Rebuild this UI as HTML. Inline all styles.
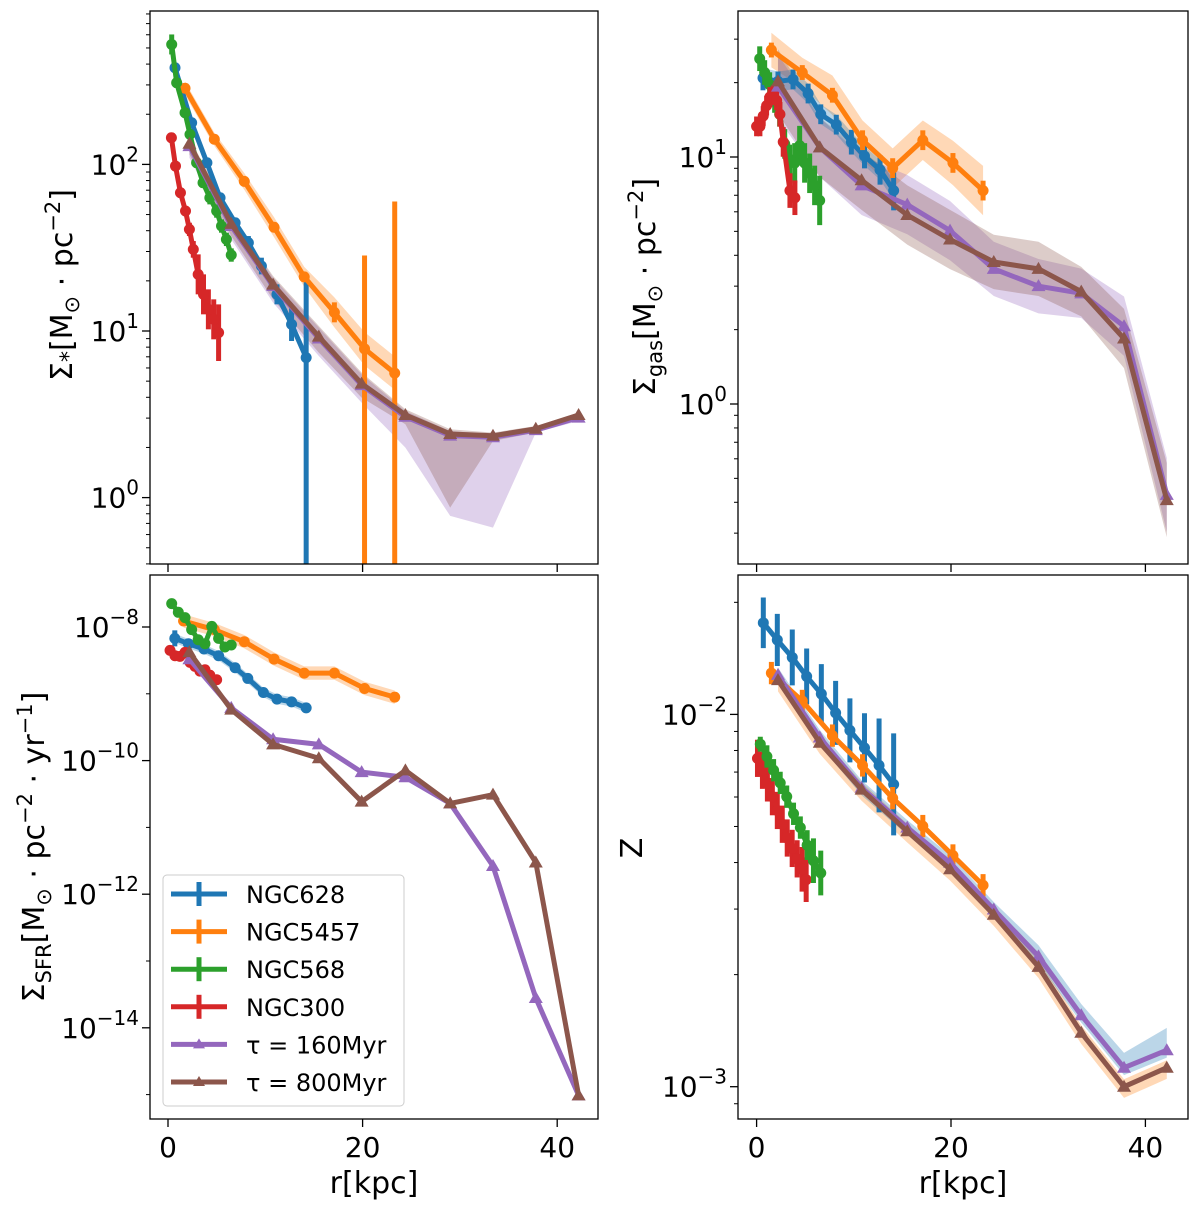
<!DOCTYPE html>
<html><head><meta charset="utf-8"><style>
html,body{margin:0;padding:0;background:#fff;}
svg{display:block;font-family:"DejaVu Sans","Liberation Sans",sans-serif;}
</style></head><body>
<svg id="fig" width="1200" height="1208" viewBox="0 0 1200 1208" xmlns="http://www.w3.org/2000/svg"></svg>
<script>
// ---------- DATA (log10 values) ----------
const modelR = [2.2,6.5,10.8,15.5,19.9,24.4,29,33.4,37.8,42.2];
// Top-left: stellar surface density
const tl_brown = [2.124,1.643,1.278,0.966,0.684,0.496,0.382,0.371,0.413,0.496];
const tl_brownLo = [2.06,1.57,1.19,0.87,0.60,0.44,-0.06,0.34,0.39,0.47];
const tl_brownHi = [2.16,1.69,1.33,1.03,0.75,0.53,0.41,0.39,0.43,0.51];
const tl_purple = [2.11,1.63,1.27,0.955,0.675,0.485,0.372,0.362,0.405,0.48];
const tl_purpleLo = [2.04,1.55,1.17,0.85,0.57,0.30,-0.11,-0.18,0.39,0.46];
const tl_purpleHi = [2.15,1.68,1.32,1.02,0.74,0.52,0.40,0.38,0.42,0.50];
const tl_628_r = [0.72,2.43,4.0,5.35,6.9,8.26,9.6,11.2,12.7,14.2];
const tl_628_v = [2.58,2.25,2.01,1.80,1.65,1.53,1.39,1.22,1.04,0.84];
const tl_628_lo = [0.03,0.03,0.03,0.03,0.03,0.04,0.05,0.06,0.1,3];
const tl_628_hi = [0.03,0.03,0.03,0.03,0.03,0.04,0.05,0.06,0.1,0.46];
const tl_5457_r = [1.75,4.76,7.84,10.9,14.0,17.1,20.2,23.3];
const tl_5457_v = [2.457,2.151,1.898,1.623,1.325,1.112,0.893,0.747];
const tl_5457_lo = [0.02,0.02,0.02,0.03,0.03,0.06,3,3];
const tl_5457_hi = [0.02,0.02,0.02,0.03,0.03,0.06,0.56,1.03];
const tl_5457_bandW = [0.04,0.04,0.05,0.06,0.06,0.09,0.1,0.1];
const tl_568_r = [0.38,0.89,1.75,2.26,2.94,3.6,4.3,5.0,5.5,6.0,6.5];
const tl_568_v = [2.72,2.49,2.31,2.18,2.01,1.89,1.80,1.72,1.63,1.55,1.456];
const tl_568_e = [0.06,0.03,0.03,0.03,0.03,0.03,0.04,0.04,0.04,0.04,0.04];
const tl_300_r = [0.35,0.77,1.28,1.8,2.2,2.6,3.1,3.65,4.15,4.7,5.2];
const tl_300_v = [2.16,1.99,1.83,1.72,1.61,1.49,1.34,1.22,1.13,1.07,0.99];
const tl_300_e = [0.03,0.03,0.03,0.03,0.04,0.05,0.12,0.12,0.12,0.12,0.17];
// Top-right: gas surface density
const tr_brown = [1.306,1.039,0.906,0.765,0.666,0.575,0.547,0.455,0.265,-0.389];
const tr_purple = [1.285,1.039,0.885,0.807,0.702,0.547,0.477,0.448,0.315,-0.368];
const tr_bandW = [0.13,0.12,0.12,0.12,0.12,0.11,0.11,0.10,0.12,0.15];
const tr_628_r = [0.66,2.2,3.75,5.3,6.6,8.2,9.75,11.1,12.7,14.1];
const tr_628_v = [1.32,1.306,1.314,1.257,1.173,1.131,1.06,1.004,0.948,0.864];
const tr_628_e = [0.05,0.04,0.04,0.04,0.04,0.04,0.05,0.05,0.06,0.08];
const tr_5457_r = [1.52,4.7,7.8,10.9,14.0,17.1,20.2,23.3];
const tr_5457_v = [1.433,1.342,1.250,1.068,0.955,1.068,0.976,0.864];
const tr_5457_e = [0.03,0.03,0.03,0.04,0.04,0.04,0.04,0.04];
const tr_5457_bandW = [0.07,0.06,0.08,0.08,0.08,0.08,0.09,0.1];
const tr_568_r = [0.32,0.83,1.34,1.86,2.37,2.89,3.4,3.92,4.43,4.94,5.46,5.97,6.49];
const tr_568_v = [1.398,1.342,1.293,1.229,1.173,1.053,0.99,0.976,1.046,0.976,0.934,0.885,0.824];
const tr_568_e = [0.05,0.05,0.05,0.05,0.05,0.06,0.06,0.08,0.08,0.08,0.08,0.08,0.1];
const tr_300_r = [0.0,0.34,0.68,1.03,1.37,1.71,2.06,2.4,2.74,3.43,3.94];
const tr_300_v = [1.124,1.124,1.166,1.208,1.243,1.25,1.229,1.173,1.061,0.864,0.835];
const tr_300_e = [0.04,0.04,0.04,0.04,0.04,0.04,0.04,0.05,0.06,0.07,0.07];
// Bottom-left: SFR surface density
const bl_brown = [-8.377,-9.237,-9.757,-9.965,-10.615,-10.147,-10.641,-10.51,-11.525,-15.012];
const bl_purple = [-8.482,-9.21,-9.68,-9.757,-10.172,-10.25,-10.641,-11.578,-13.554,-15.012];
const bl_628_r = [0.7,2.1,3.7,5.2,6.9,8.2,9.8,11.2,12.7,14.2];
const bl_628_v = [-8.17,-8.25,-8.33,-8.43,-8.61,-8.77,-8.98,-9.08,-9.12,-9.21];
const bl_628_e = [0.12,0.05,0.04,0.04,0.04,0.04,0.04,0.04,0.04,0.06];
const bl_5457_r = [1.6,4.76,7.84,10.9,14.0,17.1,20.2,23.3];
const bl_5457_v = [-7.91,-8.04,-8.22,-8.48,-8.69,-8.69,-8.92,-9.05];
const bl_568_r = [0.38,1.06,1.75,2.43,3.1,3.8,4.5,5.2,5.85,6.5];
const bl_568_v = [-7.65,-7.78,-7.86,-8.04,-8.19,-8.25,-7.99,-8.17,-8.30,-8.27];
const bl_300_r = [0.21,0.72,1.23,1.75,2.26,2.77,3.28,3.8,4.3,5.0];
const bl_300_v = [-8.35,-8.43,-8.44,-8.38,-8.53,-8.59,-8.66,-8.64,-8.72,-8.79];
// Bottom-right: metallicity
const br_brown = [-1.908,-2.076,-2.202,-2.314,-2.416,-2.538,-2.678,-2.855,-3.0,-2.949];
const br_purple = [-1.894,-2.062,-2.197,-2.304,-2.398,-2.524,-2.65,-2.808,-2.949,-2.902];
const br_628_r = [0.69,2.13,3.67,5.15,6.66,8.13,9.6,11.1,12.6,14.1];
const br_628_v = [-1.754,-1.80,-1.847,-1.898,-1.945,-1.996,-2.043,-2.09,-2.137,-2.188];
const br_628_e = [0.068,0.07,0.075,0.075,0.08,0.086,0.086,0.093,0.126,0.137];
const br_5457_r = [1.52,4.7,7.8,10.9,14.0,17.1,20.2,23.3];
const br_5457_v = [-1.889,-1.964,-2.057,-2.137,-2.225,-2.30,-2.379,-2.459];
const br_568_r = [0.38,1.06,1.75,2.43,3.1,3.8,4.5,5.2,5.85,6.6];
const br_568_v = [-2.08,-2.113,-2.15,-2.184,-2.221,-2.267,-2.304,-2.351,-2.393,-2.426];
const br_568_e = [0.02,0.03,0.03,0.03,0.03,0.03,0.03,0.04,0.06,0.06];
const br_300_r = [0.09,0.6,1.11,1.62,2.13,2.64,3.15,3.66,4.17,4.68,5.1];
const br_300_v = [-2.118,-2.15,-2.184,-2.221,-2.258,-2.295,-2.332,-2.36,-2.388,-2.416,-2.444];
const br_300_e = [0.05,0.05,0.05,0.05,0.05,0.05,0.05,0.05,0.05,0.06,0.06];
const xTicks = [0,20,40];
const legendLabels = ["NGC628","NGC5457","NGC568","NGC300","τ = 160Myr","τ = 800Myr"];

// ---------- DRAWING ----------
const C = {b:"#1f77b4",o:"#ff7f0e",g:"#2ca02c",r:"#d62728",p:"#9467bd",n:"#8c564b"};
const NS = "http://www.w3.org/2000/svg";
const svg = document.getElementById("fig");
function mk(tag, attrs, parent){const e=document.createElementNS(NS,tag);for(const k in attrs)e.setAttribute(k,attrs[k]);(parent||svg).appendChild(e);return e;}

const panels = {
 tl:{x0:150,x1:598,y0:11,y1:564,xz:168,xs:9.73,yr:164.4,lr:2,ys:166.6},
 tr:{x0:738,x1:1188,y0:11,y1:564,xz:756.6,xs:9.72,yr:157,lr:1,ys:247},
 bl:{x0:150,x1:598,y0:575,y1:1119,xz:168,xs:9.73,yr:627,lr:-8,ys:66.8},
 br:{x0:738,x1:1188,y0:575,y1:1119,xz:756.6,xs:9.72,yr:714.4,lr:-2,ys:372.3}
};
function X(p,r){return p.xz+p.xs*r;}
function Y(p,l){return p.yr-(l-p.lr)*p.ys;}

function clip(id,p){
 const d=mk("clipPath",{id:id});
 mk("rect",{x:p.x0,y:p.y0,width:p.x1-p.x0,height:p.y1-p.y0},d);
}
function band(g,p,rs,lo,hi,col,op,name){
 let pts=rs.map((r,i)=>X(p,r)+","+Y(p,hi[i]));
 pts=pts.concat(rs.map((r,i)=>X(p,r)+","+Y(p,lo[i])).reverse());
 const e=mk("polygon",{points:pts.join(" "),fill:col,"fill-opacity":op,stroke:"none"},g);
 
 
}
function line(g,p,rs,vs,col,name,w){
 const e=mk("polyline",{points:rs.map((r,i)=>X(p,r)+","+Y(p,vs[i])).join(" "),fill:"none",stroke:col,"stroke-width":w||5,"stroke-linejoin":"round"},g);
 
 
}
function errs(g,p,rs,vs,lo,hi,col,name){
 rs.forEach((r,i)=>{
  const e=mk("line",{x1:X(p,r),x2:X(p,r),y1:Y(p,vs[i]+hi[i]),y2:Y(p,vs[i]-lo[i]),stroke:col,"stroke-width":5},g);
  
  
 });
}
function dots(g,p,rs,vs,col,name){
 rs.forEach((r,i)=>{
  const e=mk("circle",{cx:X(p,r),cy:Y(p,vs[i]),r:5.5,fill:col},g);
  
  
 });
}
function tris(g,p,rs,vs,col,name){
 rs.forEach((r,i)=>{
  const x=X(p,r),y=Y(p,vs[i]);
  const e=mk("polygon",{points:`${x},${y-7} ${x-7},${y+5} ${x+7},${y+5}`,fill:col},g);
  
  
 });
}
function obs(g,p,rs,vs,lo,hi,col,name){errs(g,p,rs,vs,lo,hi,col,name);line(g,p,rs,vs,col,name+'-line');dots(g,p,rs,vs,col,name);}
function model(g,p,vs,col,name){line(g,p,modelR,vs,col,name+'-line');tris(g,p,modelR,vs,col,name);}
function add(a,b,s){return a.map((v,i)=>v+s*b[i]);}
function cst(n,v){return new Array(n).fill(v);}

function axes(key,p,name,showX){
 const g=mk("g",{});
 
 
 const fr=mk("rect",{x:p.x0,y:p.y0,width:p.x1-p.x0,height:p.y1-p.y0,fill:"none",stroke:"#000","stroke-width":1.3},g);
 
 
 const lmin=p.lr-(p.y1-p.yr)/p.ys, lmax=p.lr+(p.yr-p.y0)/p.ys;
 for(let d=Math.floor(lmin);d<=Math.ceil(lmax);d++){
  for(let m=1;m<10;m++){
   const l=d+Math.log10(m); if(l<lmin||l>lmax) continue;
   const y=Y(p,l);
   const major=(m===1);
   if(major && p.ys<100 && (d%2!==0)) { mk("line",{x1:p.x0-4,x2:p.x0,y1:y,y2:y,stroke:"#000","stroke-width":1},g); continue; }
   if(!major && p.ys<100) continue;
   mk("line",{x1:p.x0-(major?8:4),x2:p.x0,y1:y,y2:y,stroke:"#000","stroke-width":major?1.3:1},g);
   if(major){
    const t=mk("text",{x:p.x0-11,y:y+10,"text-anchor":"end","font-size":28,fill:"#000"},g);
    
    
    t.appendChild(document.createTextNode("10"));
    const s=mk("tspan",{dy:-13,"font-size":20},t); s.textContent=(d<0?"−"+(-d):""+d);
   }
  }
 }
 xTicks.forEach(v=>{
  const x=X(p,v);
  mk("line",{x1:x,x2:x,y1:p.y1,y2:p.y1+8,stroke:"#000","stroke-width":1.3},g);
  if(showX){
   const t=mk("text",{x:x,y:p.y1+38,"text-anchor":"middle","font-size":28},g);
   
   
   t.textContent=v;
  }
 });
 if(showX){
  const t=mk("text",{x:(p.x0+p.x1)/2,y:p.y1+74,"text-anchor":"middle","font-size":30},g);
  
  
  t.textContent="r[kpc]";
 }
}

Object.keys(panels).forEach(k=>clip("clip-"+k,panels[k]));

// TL
(function(){const p=panels.tl;const g=mk("g",{"clip-path":"url(#clip-tl)"});
 
 band(g,p,tl_5457_r,add(tl_5457_v,tl_5457_bandW,-1),add(tl_5457_v,tl_5457_bandW,1),C.o,0.3,'ngc5457-band');
 band(g,p,modelR,tl_purpleLo,tl_purpleHi,C.p,0.3,'tau160-band');
 band(g,p,modelR,tl_brownLo,tl_brownHi,C.n,0.3,'tau800-band');
 obs(g,p,tl_628_r,tl_628_v,tl_628_lo,tl_628_hi,C.b,'ngc628');
 obs(g,p,tl_5457_r,tl_5457_v,tl_5457_lo,tl_5457_hi,C.o,'ngc5457');
 obs(g,p,tl_568_r,tl_568_v,tl_568_e,tl_568_e,C.g,'ngc568');
 obs(g,p,tl_300_r,tl_300_v,tl_300_e,tl_300_e,C.r,'ngc300');
 model(g,p,tl_purple,C.p,'tau160');model(g,p,tl_brown,C.n,'tau800');
 axes('tl',p,'stellar-density',false);})();
// TR
(function(){const p=panels.tr;const g=mk("g",{"clip-path":"url(#clip-tr)"});
 
 band(g,p,tr_5457_r,add(tr_5457_v,tr_5457_bandW,-1),add(tr_5457_v,tr_5457_bandW,1),C.o,0.3,'ngc5457-band');
 band(g,p,modelR,add(tr_purple,tr_bandW,-1),add(tr_purple,tr_bandW,1),C.p,0.3,'tau160-band');
 band(g,p,modelR,add(tr_brown,tr_bandW,-1),add(tr_brown,tr_bandW,1),C.n,0.3,'tau800-band');
 band(g,p,tr_628_r,add(tr_628_v,cst(10,0.04),-1),add(tr_628_v,cst(10,0.04),1),C.b,0.3,'ngc628-band');
 obs(g,p,tr_628_r,tr_628_v,tr_628_e,tr_628_e,C.b,'ngc628');
 obs(g,p,tr_5457_r,tr_5457_v,tr_5457_e,tr_5457_e,C.o,'ngc5457');
 obs(g,p,tr_568_r,tr_568_v,tr_568_e,tr_568_e,C.g,'ngc568');
 obs(g,p,tr_300_r,tr_300_v,tr_300_e,tr_300_e,C.r,'ngc300');
 model(g,p,tr_purple,C.p,'tau160');model(g,p,tr_brown,C.n,'tau800');
 axes('tr',p,'gas-density',false);})();
// BL
(function(){const p=panels.bl;const g=mk("g",{"clip-path":"url(#clip-bl)"});
 
 band(g,p,bl_5457_r,add(bl_5457_v,cst(8,0.1),-1),add(bl_5457_v,cst(8,0.1),1),C.o,0.3,'ngc5457-band');
 band(g,p,bl_628_r,add(bl_628_v,cst(10,0.07),-1),add(bl_628_v,cst(10,0.07),1),C.b,0.3,'ngc628-band');
 obs(g,p,bl_628_r,bl_628_v,bl_628_e,bl_628_e,C.b,'ngc628');
 obs(g,p,bl_5457_r,bl_5457_v,cst(8,0.03),cst(8,0.03),C.o,'ngc5457');
 obs(g,p,bl_568_r,bl_568_v,cst(10,0.03),cst(10,0.03),C.g,'ngc568');
 obs(g,p,bl_300_r,bl_300_v,cst(10,0.05),cst(10,0.05),C.r,'ngc300');
 model(g,p,bl_purple,C.p,'tau160');model(g,p,bl_brown,C.n,'tau800');
 axes('bl',p,'sfr-density',true);})();
// BR
(function(){const p=panels.br;const g=mk("g",{"clip-path":"url(#clip-br)"});
 
 band(g,p,modelR,add(br_brown,cst(10,0.03),-1),add(br_brown,cst(10,0.02),1),C.o,0.3,'tau800-band');
 band(g,p,modelR,add(br_purple,cst(10,0.02),-1),add(br_purple,[0.02,0.02,0.02,0.02,0.02,0.02,0.03,0.03,0.04,0.06],1),C.b,0.3,'tau160-band');
 obs(g,p,br_628_r,br_628_v,br_628_e,br_628_e,C.b,'ngc628');
 obs(g,p,br_5457_r,br_5457_v,cst(8,0.03),cst(8,0.03),C.o,'ngc5457');
 obs(g,p,br_300_r,br_300_v,br_300_e,br_300_e,C.r,'ngc300');
 obs(g,p,br_568_r,br_568_v,br_568_e,br_568_e,C.g,'ngc568');
 model(g,p,br_purple,C.p,'tau160');model(g,p,br_brown,C.n,'tau800');
 axes('br',p,'metallicity',true);})();

// Y-axis titles
function ytitle(x,y,name,parts){
 const t=mk("text",{transform:`translate(${x},${y}) rotate(-90)`,"text-anchor":"middle","font-size":30});
 
 
 parts.forEach(([s,dy,fs])=>{const sp=mk("tspan",{dy:dy,"font-size":fs},t);sp.textContent=s;});
}
ytitle(72,285,'y-axis-title-stellar',[["Σ",0,30],["*",4,22],["[M",-4,30],["⊙",7,21],[" · pc",-7,30],["−2",-12,21],["]",12,30]]);
ytitle(655,287,'y-axis-title-gas',[["Σ",0,30],["gas",7,21],["[M",-7,30],["⊙",7,21],[" · pc",-7,30],["−2",-12,21],["]",12,30]]);
ytitle(44,847,'y-axis-title-sfr',[["Σ",0,30],["SFR",7,21],["[M",-7,30],["⊙",7,21],[" · pc",-7,30],["−2",-12,21],[" · yr",12,30],["−1",-12,21],["]",12,30]]);
ytitle(642,848,'y-axis-title-metallicity',[["Z",0,30]]);

// Legend
(function(){
 const g=mk("g",{});
 
 mk("rect",{x:163,y:875,width:241,height:231,rx:4,fill:"#fff","fill-opacity":0.8,stroke:"#ccc","stroke-width":1},g);
 const cols=[C.b,C.o,C.g,C.r,C.p,C.n];
 legendLabels.forEach((lab,i)=>{
  const y=894+i*37.6;
  const eg=mk("g",{},g);
  
  
  mk("line",{x1:171,x2:227,y1:y,y2:y,stroke:cols[i],"stroke-width":5},eg);
  if(i<4){mk("line",{x1:199,x2:199,y1:y-12,y2:y+12,stroke:cols[i],"stroke-width":5},eg);}
  else{mk("polygon",{points:`199,${y-6} 193,${y+4} 205,${y+4}`,fill:cols[i]},eg);}
  const t=mk("text",{x:246,y:y+9,"font-size":24},eg);t.textContent=lab;
 });
})();
</script>
</body></html>
